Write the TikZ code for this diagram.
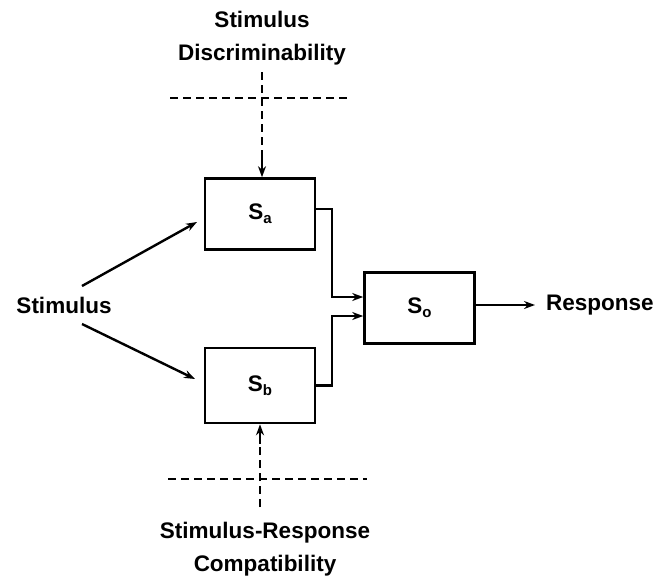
\documentclass[tikz,border=0pt]{standalone}
\usepackage{fontspec}
\setmainfont{Liberation Sans}
\usetikzlibrary{arrows.meta,calc}
\newcommand{\subl}[1]{\raisebox{-0.35ex}{\fontsize{15}{15}\selectfont #1}}
\begin{document}
\begin{tikzpicture}[x=1pt,y=-1pt,
  every node/.style={font=\fontsize{22.5}{33}\selectfont\bfseries},
  blk/.style={draw,line width=2.6pt,minimum width=110pt,minimum height=71pt,inner sep=0pt},
  ln/.style={line width=2.4pt},
  arr/.style={ln,-{Stealth[length=11pt,width=8pt]}},
  dsh/.style={line width=2.4pt,dash pattern=on 8pt off 5pt}]
\useasboundingbox (0,0) rectangle (660,578);
\node[blk] (sa) at (260,214) {S\subl{a}};
\node[blk,minimum height=75pt] (sb) at (260,385.5) {S\subl{b}};
\node[blk] (so) at (419.5,308) {S\subl{o}};
\node[anchor=center] (stim) at (64,305) {Stimulus};
\node[anchor=west,inner sep=0pt] (resp) at (546,305) {Response};
\node[align=center] (sd) at (262,38) {Stimulus\\Discriminability};
\node[align=center] (src) at (265,549) {Stimulus-Response\\Compatibility};
% stimulus arrows
\coordinate (s1) at (82,286);
\coordinate (s2) at (82,324);
\draw[arr] (s1) -- (197,222);
\draw[arr] (s2) -- (195,379);
% to So
\draw[arr] ([yshift=5pt]sa.east) -| (332,297) -- (so.west |- 0,297);
\draw[arr] (sb.east) -| (332,316) -- (so.west |- 0,316);
\draw[arr] (so.east |- 0,305) -- (535,305);
% top dashed
\draw[dsh] (170,98) -- (347,98);
\coordinate (t1) at (262,72);
\draw[dsh] (t1) -- (262,164);
\draw[arr] (262,158) -- (sa.north -| 262,0);
% bottom dashed
\draw[dsh] (168,479) -- (367,479);
\coordinate (b1) at (260,507);
\draw[dsh] (b1) -- (260,438);
\draw[arr] (260,444) -- (sb.south);
\end{tikzpicture}
\end{document}
